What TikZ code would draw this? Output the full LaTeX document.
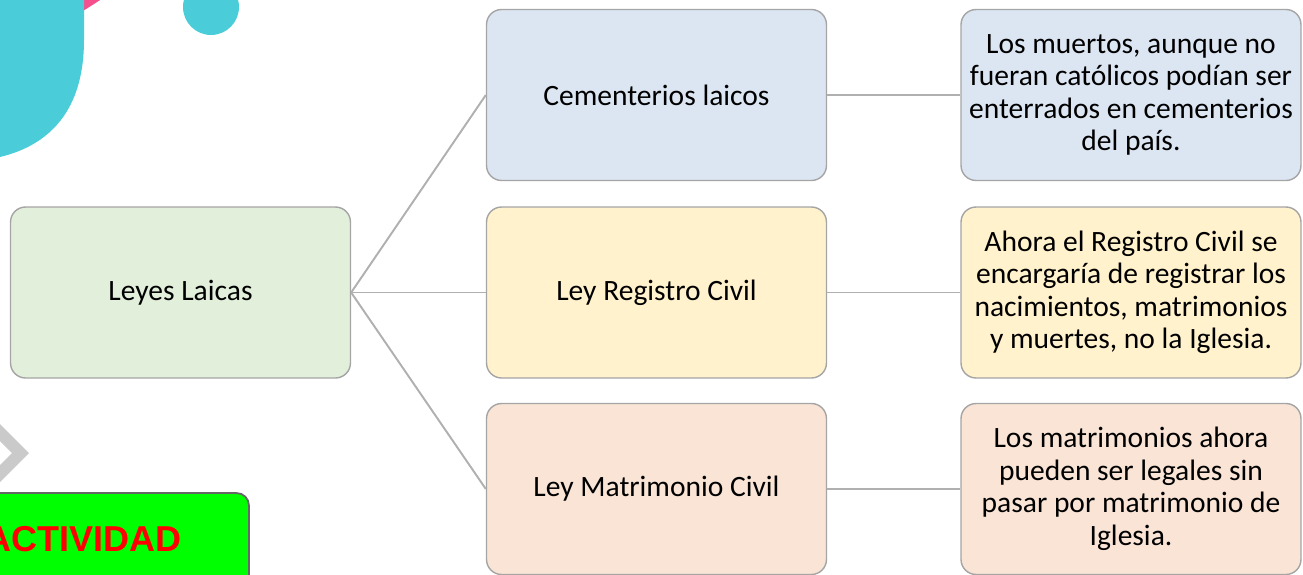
\documentclass[tikz,border=0pt]{standalone}
\usepackage{fontspec}
\setmainfont{Carlito}
\newfontfamily\actfont{Liberation Sans}
\usetikzlibrary{positioning}
\definecolor{azulcaja}{HTML}{DCE6F2}
\definecolor{verdecaja}{HTML}{E2EFDA}
\definecolor{amarillocaja}{HTML}{FFF2CC}
\definecolor{rosacaja}{HTML}{F9E4D6}
\definecolor{bordegris}{HTML}{A5A5A5}
\definecolor{lineagris}{HTML}{B0B0B0}
\definecolor{tealdeco}{HTML}{4BCDD9}
\definecolor{rosadeco}{HTML}{F64F8E}
\definecolor{flechagris}{HTML}{CACACA}
\definecolor{verdeact}{HTML}{00FF00}
\tikzset{
  caja/.style={draw=bordegris, line width=0.8pt, rounded corners=0.3cm,
    minimum width=6.8cm, minimum height=3.42cm, inner sep=0pt, align=center,
    font=\fontsize{16.8pt}{18.5pt}\selectfont, text=black},
  enlace/.style={draw=lineagris, line width=1.1pt}
}
\begin{document}
\begin{tikzpicture}[x=0.02cm,y=-0.02cm]
\useasboundingbox (0,0) rectangle (1303,575);
% adornos
\fill[rosadeco] (70,-5) -- (108,-5) -- (83,11) -- cycle;
\fill[tealdeco] (0,-5) -- (84,-5) -- (84,40) .. controls (84,110) and (50,145) .. (0,157) -- cycle;
\fill[tealdeco] (211,7) circle (28);
\fill[flechagris] (0,424) -- (29,453) -- (0,482) -- (0,465) -- (12,453) -- (0,441) -- cycle;
\draw[fill=verdeact, draw=black!60, line width=1pt, rounded corners=0.25cm] (-20,493) rectangle (249,600);
\node[anchor=east, inner sep=0pt, text=red, font=\actfont\bfseries\fontsize{20.5pt}{24pt}\selectfont] (act) at (182,539) {ACTIVIDAD};
% cajas
\node[caja, fill=verdecaja] (leyes) at (180.5,292.5) {Leyes Laicas};
\node[caja, fill=azulcaja] (cem) at (656.5,95) {Cementerios laicos};
\node[caja, fill=amarillocaja] (reg) at (656.5,292.5) {Ley Registro Civil};
\node[caja, fill=rosacaja] (mat) at (656.5,489) {Ley Matrimonio Civil};
\node[caja, fill=azulcaja] (cemtxt) at (1131,95) {Los muertos, aunque no\\fueran católicos podían ser\\enterrados en cementerios\\del país.};
\node[caja, fill=amarillocaja] (regtxt) at (1131,292.5) {Ahora el Registro Civil se\\encargaría de registrar los\\nacimientos, matrimonios\\y muertes, no la Iglesia.};
\node[caja, fill=rosacaja] (mattxt) at (1131,489) {Los matrimonios ahora\\pueden ser legales sin\\pasar por matrimonio de\\Iglesia.};
% enlaces
\draw[enlace] (leyes.east) -- (cem.west);
\draw[enlace] (leyes.east) -- (reg.west);
\draw[enlace] (leyes.east) -- (mat.west);
\draw[enlace] (cem.east) -- (cemtxt.west);
\draw[enlace] (reg.east) -- (regtxt.west);
\draw[enlace] (mat.east) -- (mattxt.west);
\end{tikzpicture}
\end{document}
